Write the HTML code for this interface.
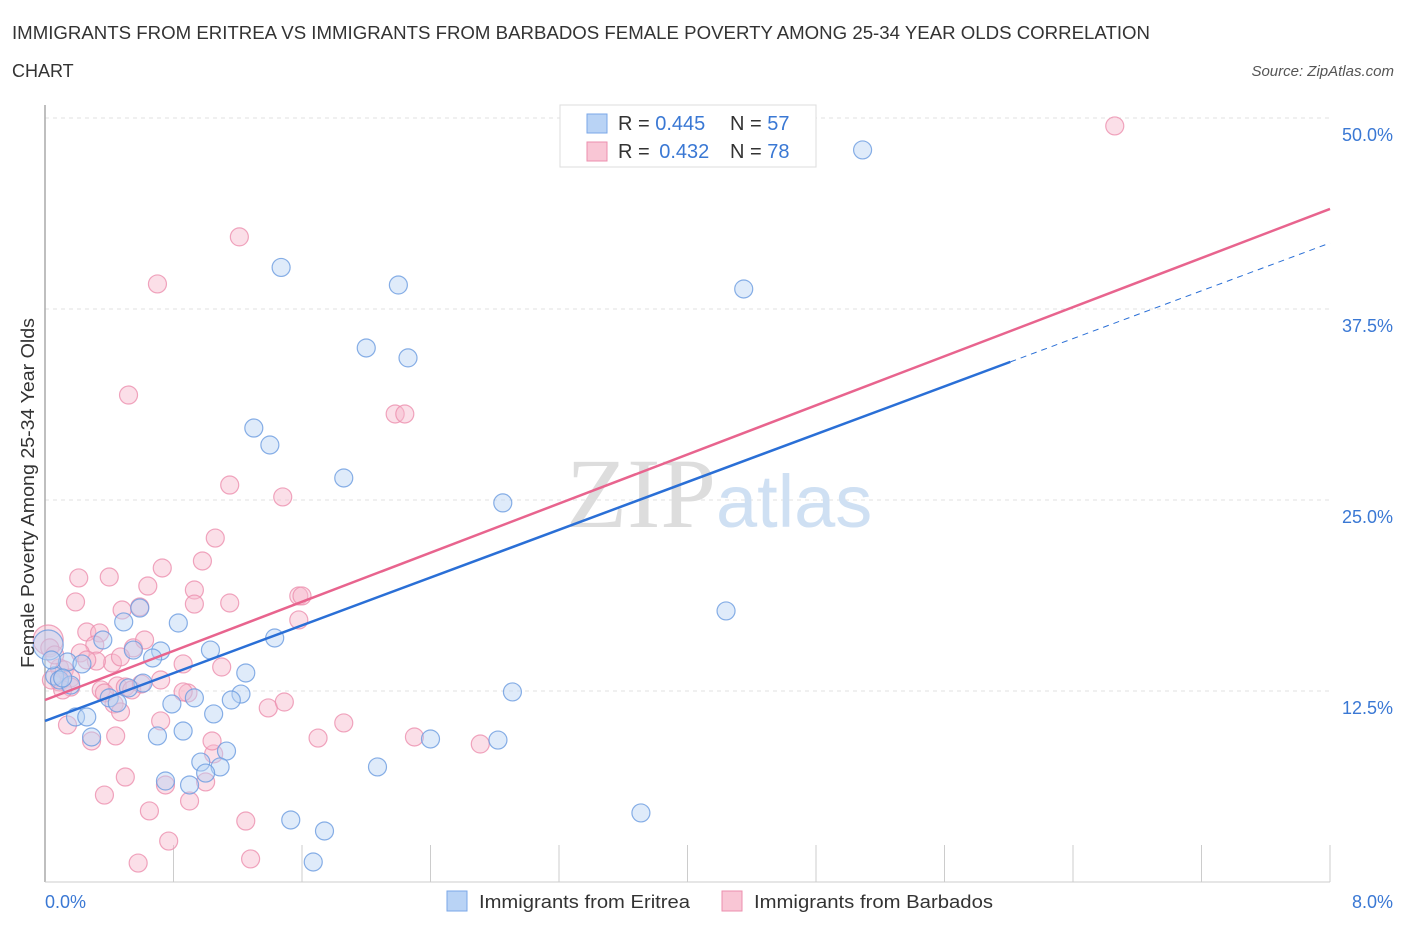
<!DOCTYPE html>
<html><head><meta charset="utf-8"><style>
body{margin:0;background:#fff;font-family:"Liberation Sans",sans-serif;}
</style></head><body>
<svg width="1406" height="930" viewBox="0 0 1406 930" xmlns="http://www.w3.org/2000/svg">
<text x="12" y="39" font-size="18" fill="#333" textLength="1138" lengthAdjust="spacingAndGlyphs">IMMIGRANTS FROM ERITREA VS IMMIGRANTS FROM BARBADOS FEMALE POVERTY AMONG 25-34 YEAR OLDS CORRELATION</text>
<text x="12" y="77" font-size="18" fill="#333">CHART</text>
<text x="1394" y="76" font-size="15" fill="#555" font-style="italic" text-anchor="end">Source: ZipAtlas.com</text>
<g id="grid"></g>
<text x="716" y="527" font-size="100" fill="#ddd" font-family="Liberation Serif,serif" text-anchor="end">ZIP</text>
<text x="716" y="527" font-size="74" fill="#cfe0f3">atlas</text>
<g id="pts"></g>
<g id="lines"></g>
<text transform="translate(34,493) rotate(-90)" font-size="18" fill="#333" text-anchor="middle" textLength="350" lengthAdjust="spacingAndGlyphs">Female Poverty Among 25-34 Year Olds</text>
<text x="45" y="908" font-size="18" fill="#3a78d4">0.0%</text>
<text x="1393" y="908" font-size="18" fill="#3a78d4" text-anchor="end">8.0%</text>
<g>
<rect x="560" y="105" width="256" height="62" fill="#fff" stroke="#ddd"/>
<rect x="587" y="114" width="20" height="19" fill="#b9d3f5" stroke="#7aa7e8"/>
<rect x="587" y="142" width="20" height="19" fill="#f9c6d5" stroke="#ec8fae"/>
<text x="618" y="130" font-size="20" fill="#333">R = <tspan fill="#3a78d4">0.445</tspan><tspan x="730">N = </tspan><tspan fill="#3a78d4">57</tspan></text>
<text x="618" y="158" font-size="20" fill="#333">R = <tspan fill="#3a78d4" dx="4">0.432</tspan><tspan x="730">N = </tspan><tspan fill="#3a78d4">78</tspan></text>
</g>
<g>
<rect x="447" y="891" width="20" height="20" fill="#b9d3f5" stroke="#7aa7e8"/>
<text x="479" y="908" font-size="18" fill="#333" textLength="211" lengthAdjust="spacingAndGlyphs">Immigrants from Eritrea</text>
<rect x="722" y="891" width="20" height="20" fill="#f9c6d5" stroke="#ec8fae"/>
<text x="754" y="908" font-size="18" fill="#333" textLength="239" lengthAdjust="spacingAndGlyphs">Immigrants from Barbados</text>
</g>
</svg>
<script>
const yTicks=[12.5,25,37.5,50];
const yTickLabels=["12.5%","25.0%","37.5%","50.0%"];
const xTicks=[0,0.8,1.6,2.4,3.2,4,4.8,5.6,6.4,7.2,8];
const blueX=[5.09,1.47,2.20,4.35,2.00,2.26,1.30,1.40,1.86,2.85,4.24,0.59,0.49,0.83,0.36,1.43,1.03,0.72,0.55,0.67,0.14,0.23,0.06,0.09,1.25,0.61,0.52,1.22,2.91,1.16,0.79,0.93,0.40,0.45,1.05,0.19,0.26,0.86,0.70,0.29,1.13,0.97,1.09,2.07,2.40,2.82,0.75,0.90,1.00,3.71,1.53,1.74,1.67,0.02,0.04,0.16,0.11];
const blueY=[47.91,40.22,39.07,38.81,34.95,34.30,29.71,28.60,26.44,24.81,17.74,17.93,17.02,16.95,15.84,15.97,15.18,15.12,15.18,14.66,14.40,14.27,13.48,13.22,13.68,13.02,12.70,12.30,12.44,11.91,11.65,12.05,12.05,11.72,11.00,10.80,10.80,9.88,9.56,9.49,8.57,7.85,7.53,7.53,9.36,9.29,6.61,6.35,7.13,4.52,4.06,3.34,1.31,15.51,14.53,12.89,13.35];
const pinkX=[6.66,1.21,0.70,0.52,2.18,2.24,1.15,1.48,1.06,0.98,0.73,0.21,0.40,0.64,0.93,0.19,1.15,0.93,0.48,1.58,1.60,0.59,1.58,0.26,0.34,0.31,0.55,0.22,0.42,0.47,0.32,0.86,0.09,0.12,1.10,0.16,0.09,0.16,0.04,0.45,0.35,0.89,1.39,1.49,0.86,0.37,0.50,0.54,0.60,0.43,0.47,0.72,0.14,1.86,0.44,0.29,1.70,2.30,2.71,1.05,1.00,0.75,0.50,0.37,0.90,0.65,1.25,0.77,0.58,1.28,0.02,0.03,0.06,0.11,0.72,0.62,0.26,1.04];
const pinkY=[49.48,42.22,39.14,31.87,30.63,30.63,25.98,25.20,22.51,21.01,20.55,19.90,19.96,19.37,19.11,18.33,18.26,18.19,17.80,18.72,18.72,18.00,17.15,16.36,16.30,15.51,15.32,14.99,14.33,14.73,14.46,14.27,14.01,13.88,14.07,13.35,13.09,12.76,13.22,12.83,12.57,12.37,11.39,11.78,12.44,12.37,12.76,12.57,12.96,11.65,11.13,10.54,10.28,10.41,9.56,9.23,9.42,9.49,9.03,8.38,6.55,6.35,6.87,5.69,5.30,4.65,3.99,2.68,1.24,1.51,15.84,15.32,14.86,12.57,13.22,15.84,14.53,9.23];
const blueLine=[10.54,41.82], blueSolidEnd=6.01;
const pinkLine=[11.91,44.05];
const X=v=>45+v/8*1285, Y=v=>882-v/12.5*191;
const NS="http://www.w3.org/2000/svg";
function mk(t,a,p){const e=document.createElementNS(NS,t);for(const k in a)e.setAttribute(k,a[k]);p.appendChild(e);return e;}
const g=document.getElementById('grid');
yTicks.forEach((t,i)=>{
 const l=mk('line',{x1:45,x2:1330,y1:Y(t),y2:Y(t),stroke:'#e2e2e2','stroke-dasharray':'4,4'},g);
 
 
 const tx=mk('text',{x:1393,y:Y(t)+23,'font-size':18,fill:'#3a78d4','text-anchor':'end'},g);
 tx.textContent=yTickLabels[i];
 
 
});
xTicks.forEach(t=>{
 const l=mk('line',{x1:X(t),x2:X(t),y1:845,y2:882,stroke:'#ccc','stroke-width':1},g);
 
 
});
const ax=mk('line',{x1:45,x2:45,y1:105,y2:882,stroke:'#aaa','stroke-width':1.5},g);


const ax2=mk('line',{x1:45,x2:1330,y1:882,y2:882,stroke:'#ccc','stroke-width':1},g);


const p=document.getElementById('pts');
function pts(xs,ys,fill,stroke,name){xs.forEach((x,i)=>{
 const r=(x<0.03&&ys[i]>15.3)?15:9;
 const c=mk('circle',{cx:X(x),cy:Y(ys[i]),r:r,fill:fill,'fill-opacity':0.45,stroke:stroke,'stroke-width':1.2,'stroke-opacity':0.8},p);
 
 
});}
pts(pinkX,pinkY,'#f7b9cc','#ec8fae','barbados-point');
pts(blueX,blueY,'#b9d3f5','#6a9be0','eritrea-point');
const L=document.getElementById('lines');
const bl=v=>blueLine[0]+(blueLine[1]-blueLine[0])*v/8;
const pl=v=>pinkLine[0]+(pinkLine[1]-pinkLine[0])*v/8;
const l1=mk('line',{x1:X(0),y1:Y(pl(0)),x2:X(8),y2:Y(pl(8)),stroke:'#e8648e','stroke-width':2.5},L);


const l2=mk('line',{x1:X(0),y1:Y(bl(0)),x2:X(blueSolidEnd),y2:Y(bl(blueSolidEnd)),stroke:'#2a6fd6','stroke-width':2.5},L);


const l3=mk('line',{x1:X(blueSolidEnd),y1:Y(bl(blueSolidEnd)),x2:X(8),y2:Y(bl(8)),stroke:'#2a6fd6','stroke-width':1,'stroke-dasharray':'6,5'},L);


</script>
</body></html>
